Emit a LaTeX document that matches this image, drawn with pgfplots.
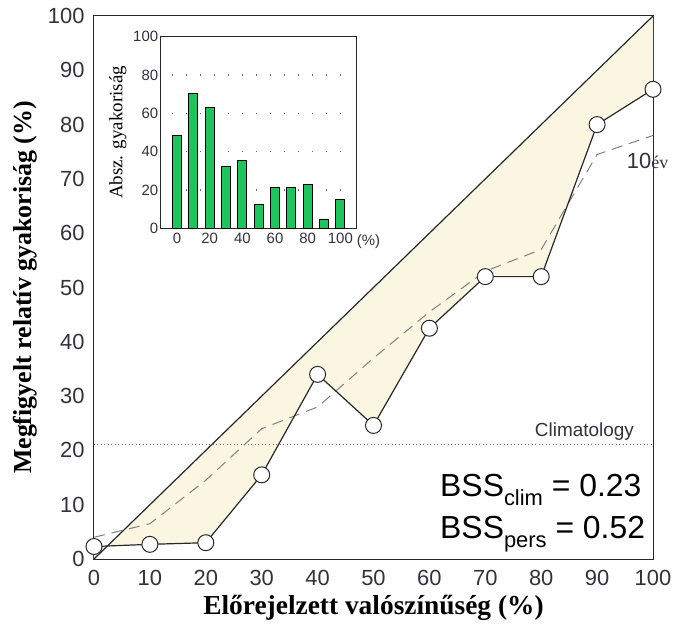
\documentclass[border=0pt]{standalone}
\usepackage{fontspec}
\setmainfont{Liberation Serif}
\setsansfont{Liberation Sans}
\usepackage{pgfplots}
\pgfplotsset{compat=1.18}
\definecolor{shade}{RGB}{251,246,226}
\definecolor{bargreen}{RGB}{30,196,92}
\definecolor{lineclr}{RGB}{40,40,40}
\definecolor{txtclr}{RGB}{50,50,60}

\begin{document}
\begin{tikzpicture}[x=1bp,y=1bp]
\path[use as bounding box] (-94bp,-85bp) rectangle (584bp,559bp);

% main reliability diagram
\begin{axis}[at={(0bp,0bp)}, anchor=south west,
  width=559bp, height=543bp, scale only axis,
  xmin=0, xmax=100, ymin=0, ymax=100,
  xtick={0,10,...,100}, ytick={0,10,...,100},
  major tick length=0pt,
  axis line style={lineclr, line width=1bp},
  tick label style={font=\sffamily\fontsize{22}{22}\selectfont, color=txtclr},
  /pgf/number format/assume math mode=true,
  xticklabel style={yshift=-8bp},
  yticklabel style={xshift=-6bp},
  xlabel={Előrejelzett valószínűség (\%)},
  ylabel={Megfigyelt relatív gyakoriság (\%)},
  xlabel style={font=\bfseries\fontsize{27.5}{27.5}\selectfont, yshift=-2bp},
  ylabel style={font=\bfseries\fontsize{26}{26}\selectfont, yshift=4bp},
  clip=false]

% area between the diagonal and the observed curve
\addplot[fill=shade, draw=none] coordinates {
  (0,0) (100,100) (100,86.5) (90,80) (80,52) (70,52) (60,42.5)
  (50,24.6) (40,34) (30,15.5) (20,3.0) (10,2.7) (0,2.3)} -- cycle;

% perfect reliability
\addplot[lineclr, line width=1.2bp] coordinates {(0,0) (100,100)};

% climatology
\addplot[gray!70!violet, line width=1bp, dash pattern=on 1bp off 2.5bp]
  coordinates {(0,21.1) (100,21.1)};

% 10-year reference
\addplot[gray, line width=1bp, dash pattern=on 11bp off 7bp] coordinates {
  (0,4) (10,6.5) (20,14.5) (30,24) (40,28) (50,37) (60,45.5)
  (70,53) (80,57) (90,74.5) (100,78)};

% observed relative frequency
\addplot[lineclr, line width=1.2bp, mark=*, mark size=8bp,
  mark options={fill=white, draw=lineclr, line width=1bp}] coordinates {
  (0,2.3) (10,2.7) (20,3.0) (30,15.5) (40,34) (50,24.6) (60,42.5)
  (70,52) (80,52) (90,80) (100,86.5)};

\node[anchor=base east, font=\sffamily\fontsize{19}{19}\selectfont, text=txtclr]
  at (axis cs:97.2,22.6) {Climatology};
\node[anchor=base west, inner sep=0pt, text=txtclr] at (axis cs:95.3,72)
  {{\sffamily\fontsize{22}{22}\selectfont 10}{\fontsize{18}{18}\selectfont év}};

\node[anchor=base west, inner sep=0pt, font=\sffamily\fontsize{32}{32}\selectfont]
  at (axis cs:61.9,11.5)
  {BSS\raisebox{-0.28em}{\fontsize{22}{22}\selectfont clim} = 0.23};
\node[anchor=base west, inner sep=0pt, font=\sffamily\fontsize{32}{32}\selectfont]
  at (axis cs:61.9,3.8)
  {BSS\raisebox{-0.28em}{\fontsize{22}{22}\selectfont pers} = 0.52};
\end{axis}

% inset: absolute frequency of forecasts
\begin{axis}[at={(66.7bp,330.7bp)}, anchor=south west,
  width=196bp, height=191.6bp, scale only axis,
  xmin=-10, xmax=110, ymin=0, ymax=100,
  xtick={0,20,...,100}, ytick={0,20,...,100},
  major tick length=0pt,
  axis line style={lineclr, line width=1bp},
  tick label style={font=\sffamily\fontsize{15}{15}\selectfont, color=txtclr},
  /pgf/number format/assume math mode=true,
  xticklabel style={yshift=-1bp},
  yticklabel style={xshift=1bp},
  ylabel={Absz. gyakoriság},
  ylabel style={font=\fontsize{19}{19}\selectfont, yshift=0bp},
  clip=false]

\pgfplotsinvokeforeach{20,40,60,80}{
  \addplot[gray!80!blue, line width=1.2bp, dash pattern=on 1.2bp off 12.8bp]
    coordinates {(-3,#1) (103,#1)};
}

\addplot[ybar, bar width=9bp, bar shift=0pt, fill=bargreen, draw=black,
  line width=0.8bp] coordinates {
  (0,48.3) (10,70.4) (20,63.1) (30,32.2) (40,35.3) (50,12.5)
  (60,21.4) (70,21.4) (80,23.1) (90,4.9) (100,15.1)};

\node[anchor=west, font=\sffamily\fontsize{15}{15}\selectfont, text=txtclr]
  at (axis cs:108,-6.8) {(\%)};
\end{axis}
\end{tikzpicture}
\end{document}
